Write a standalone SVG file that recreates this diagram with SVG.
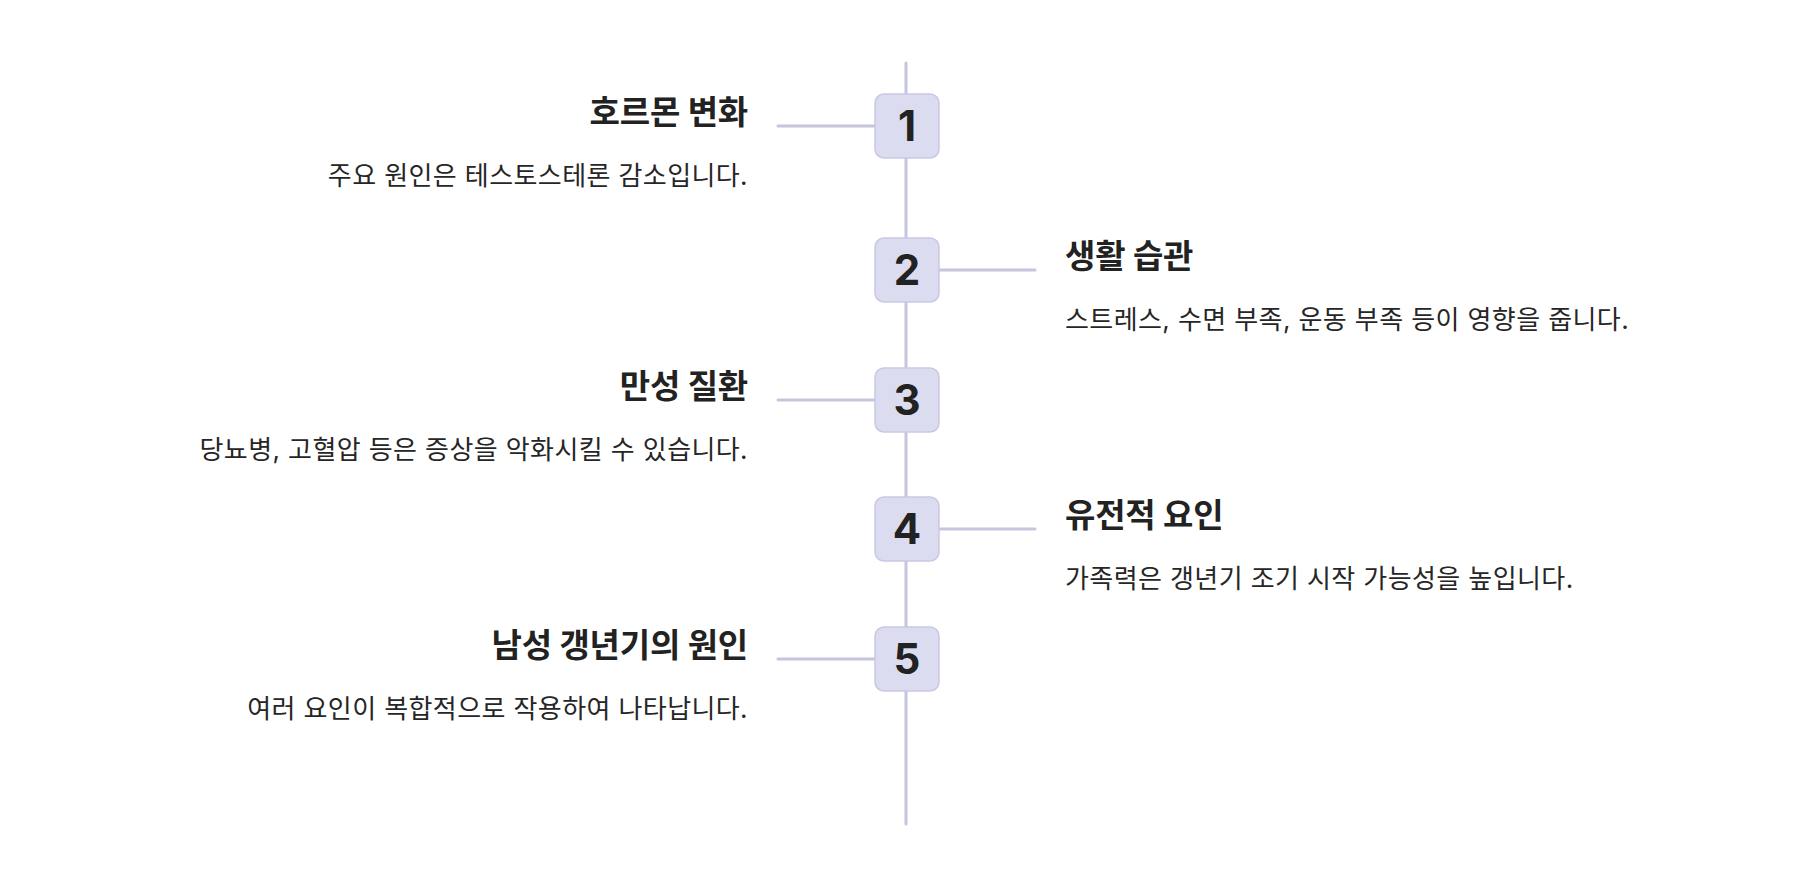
<svg xmlns="http://www.w3.org/2000/svg" width="1816" height="876" viewBox="0 0 1816 876">
<style>
.ln{stroke:#c6c5de;stroke-width:3;stroke-linecap:round;fill:none}
.box{fill:#dcdcf0;stroke:#c9c8e4;stroke-width:1.5}
.num{font-family:Inter,"Liberation Sans","Noto Sans CJK KR",sans-serif;font-weight:700;font-size:42px;fill:#222;text-anchor:middle}
.tt{font-family:Inter,"Noto Sans CJK KR",sans-serif;font-weight:700;font-size:33px;fill:#222;letter-spacing:-0.2px}
.ds{font-family:Inter,"Noto Sans CJK KR",sans-serif;font-weight:400;font-size:26px;fill:#262626;letter-spacing:0.4px}
.r{text-anchor:end}
</style>
<rect width="1816" height="876" fill="#ffffff"/>
<g id="connectors">
<line class="ln" x1="906" y1="63" x2="906" y2="824"/>
<line class="ln" x1="778" y1="126" x2="875" y2="126"/>
<line class="ln" x1="939" y1="270" x2="1035" y2="270"/>
<line class="ln" x1="778" y1="400" x2="875" y2="400"/>
<line class="ln" x1="939" y1="529" x2="1035" y2="529"/>
<line class="ln" x1="778" y1="659" x2="875" y2="659"/>
</g>
<g id="node1">
<rect class="box" x="875" y="94" width="64" height="64" rx="9"/>
<text class="num" x="907" y="141">1</text>
<text class="tt r" x="748" y="124">호르몬 변화</text>
<text class="ds r" x="748" y="185">주요 원인은 테스토스테론 감소입니다.</text>
</g>
<g id="node2">
<rect class="box" x="875" y="238" width="64" height="64" rx="9"/>
<text class="num" x="907" y="285">2</text>
<text class="tt" x="1065" y="268">생활 습관</text>
<text class="ds" x="1065" y="329">스트레스, 수면 부족, 운동 부족 등이 영향을 줍니다.</text>
</g>
<g id="node3">
<rect class="box" x="875" y="368" width="64" height="64" rx="9"/>
<text class="num" x="907" y="415">3</text>
<text class="tt r" x="748" y="398">만성 질환</text>
<text class="ds r" x="748" y="459">당뇨병, 고혈압 등은 증상을 악화시킬 수 있습니다.</text>
</g>
<g id="node4">
<rect class="box" x="875" y="497" width="64" height="64" rx="9"/>
<text class="num" x="907" y="544">4</text>
<text class="tt" x="1065" y="527">유전적 요인</text>
<text class="ds" x="1065" y="588">가족력은 갱년기 조기 시작 가능성을 높입니다.</text>
</g>
<g id="node5">
<rect class="box" x="875" y="627" width="64" height="64" rx="9"/>
<text class="num" x="907" y="674">5</text>
<text class="tt r" x="748" y="657">남성 갱년기의 원인</text>
<text class="ds r" x="748" y="718">여러 요인이 복합적으로 작용하여 나타납니다.</text>
</g>
</svg>
